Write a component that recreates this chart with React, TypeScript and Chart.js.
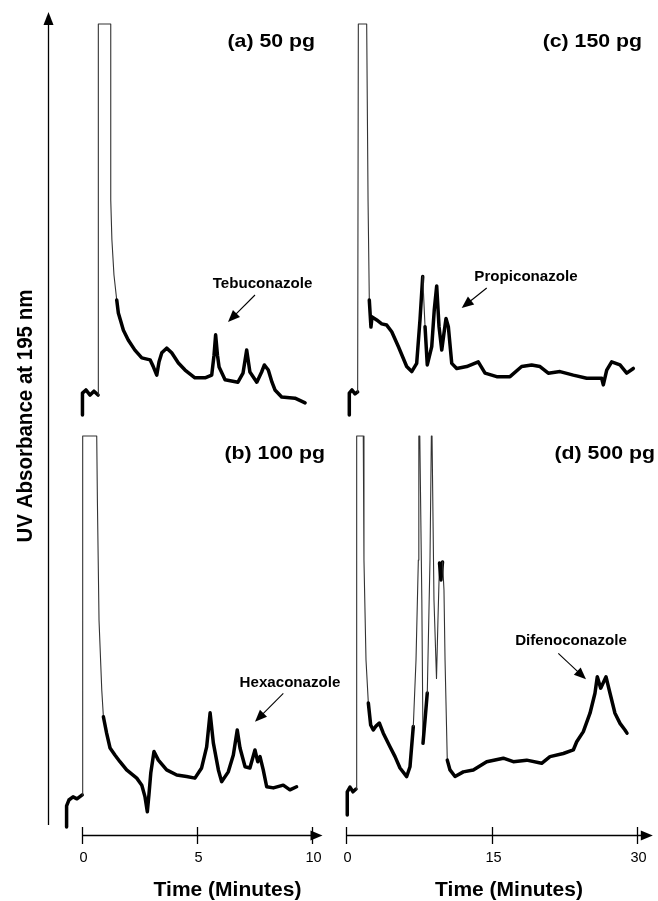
import React, { useEffect, useRef } from "react";
import { Chart, registerables } from "chart.js";

Chart.register(...registerables);

// ---------- DATA (time in minutes, UV absorbance in relative units; 100 = detector clipped) ----------
// (a) 50 pg – Tebuconazole
const timeA = [0.02, 0.02, 0.17, 0.35, 0.52, 0.70, 0.71, 1.25, 1.25, 1.30, 1.39, 1.51, 1.58, 1.67, 1.80, 2.01, 2.30, 2.60, 2.96, 3.09, 3.25, 3.35, 3.47, 3.68, 3.90, 4.19, 4.48, 4.91, 5.35, 5.64, 5.74, 5.81, 5.89, 5.96, 6.22, 6.78, 7.00, 7.16, 7.30, 7.60, 7.81, 7.93, 8.10, 8.26, 8.39, 8.68, 9.26, 9.70];
const absA = [0, 5.6, 6.4, 5.1, 6.1, 5.1, 100, 100, 55.0, 44.8, 35.8, 29.4, 26.1, 24.3, 21.7, 19.2, 16.6, 14.6, 14.1, 12.5, 10.2, 13.6, 15.9, 17.1, 15.9, 13.3, 11.5, 9.5, 9.5, 10.2, 15.3, 20.5, 15.3, 12.3, 9.0, 8.4, 10.7, 16.6, 11.0, 8.4, 11.0, 12.8, 11.5, 8.4, 6.4, 4.6, 4.3, 3.1];

// (b) 100 pg – Hexaconazole
const timeB = [-0.67, -0.67, -0.57, -0.39, -0.22, 0.01, 0.03, 0.64, 0.67, 0.74, 0.86, 0.93, 1.07, 1.22, 1.43, 1.65, 1.94, 2.38, 2.60, 2.74, 2.84, 2.91, 2.99, 3.13, 3.32, 3.68, 4.12, 4.55, 4.91, 5.20, 5.42, 5.57, 5.71, 5.93, 6.07, 6.36, 6.58, 6.75, 6.87, 7.09, 7.30, 7.52, 7.64, 7.74, 7.88, 8.03, 8.32, 8.75, 9.04, 9.33];
const absB = [0, 5.4, 6.9, 7.7, 7.2, 8.2, 100, 100, 83.1, 52.9, 35.0, 28.2, 24.0, 20.2, 18.4, 16.7, 14.6, 12.5, 10.7, 7.7, 3.9, 8.2, 13.8, 19.3, 17.1, 14.6, 13.3, 12.9, 12.5, 15.1, 20.5, 29.2, 21.5, 14.6, 11.6, 14.1, 18.4, 24.8, 20.2, 15.4, 15.1, 19.7, 16.7, 18.0, 14.6, 10.3, 10.0, 10.7, 9.5, 10.3];

// (c) 150 pg – Propiconazole
const timeC = [0.34, 0.34, 0.62, 0.93, 1.20, 1.27, 2.13, 2.27, 2.40, 2.57, 2.68, 3.16, 3.68, 4.19, 4.71, 5.39, 6.25, 6.77, 7.28, 7.62, 7.90, 8.14, 8.37, 8.83, 9.09, 9.34, 9.58, 9.86, 10.09, 10.30, 10.54, 10.89, 11.40, 12.43, 13.62, 14.32, 15.52, 16.89, 18.09, 19.12, 19.98, 20.83, 22.04, 23.41, 24.79, 26.33, 26.50, 26.85, 27.36, 28.22, 28.91, 29.59];
const absC = [0, 5.6, 6.4, 5.4, 5.9, 100, 100, 55.0, 29.4, 22.5, 25.1, 24.3, 23.3, 23.0, 21.3, 17.5, 12.4, 11.1, 13.2, 24.3, 35.4, 22.6, 12.8, 17.5, 26.9, 33.0, 22.6, 16.6, 20.9, 24.7, 22.6, 13.2, 11.9, 12.4, 13.6, 10.7, 9.8, 9.8, 12.4, 12.8, 12.4, 10.7, 11.1, 10.2, 9.4, 9.4, 7.7, 11.5, 13.6, 12.8, 10.7, 11.9];

// (d) 500 pg – Difenoconazole
const timeD = [0.13, 0.13, 0.41, 0.72, 1.03, 1.10, 1.78, 1.85, 2.06, 2.30, 2.54, 2.81, 3.09, 3.43, 3.84, 4.53, 5.05, 5.56, 6.25, 6.59, 6.93, 7.21, 7.45, 7.50, 7.60, 7.81, 7.93, 8.14, 8.37, 8.65, 8.79, 8.86, 9.06, 9.32, 9.47, 9.63, 9.78, 9.94, 10.09, 10.20, 10.43, 10.71, 11.23, 12.08, 13.11, 14.49, 16.20, 17.23, 18.61, 20.15, 21.01, 22.38, 23.41, 23.76, 24.44, 25.13, 25.64, 25.88, 26.23, 26.78, 27.19, 27.70, 28.22, 28.73, 28.94];
const absD = [3.1, 9.0, 10.2, 9.0, 9.7, 100, 100, 68.3, 42.7, 31.7, 26.1, 24.8, 25.8, 26.6, 24.0, 20.5, 18.0, 15.1, 12.9, 15.4, 25.7, 42.7, 68.3, 100, 100, 58.1, 21.4, 27.4, 34.3, 68.3, 100, 100, 58.1, 38.0, 52.9, 67.5, 63.2, 67.8, 60.6, 42.7, 17.1, 14.6, 12.9, 14.1, 14.6, 16.7, 17.6, 16.7, 17.1, 16.3, 18.0, 18.8, 19.7, 21.8, 24.4, 29.1, 34.2, 38.4, 35.5, 38.4, 34.2, 29.1, 26.5, 24.8, 24.0];

const leftTicks = [0, 5, 10];
const rightTicks = [0, 15, 30];
const panelLabels = ["(a) 50 pg", "(b) 100 pg", "(c) 150 pg", "(d) 500 pg"];
const compounds = ["Tebuconazole", "Hexaconazole", "Propiconazole", "Difenoconazole"];
const yTitle = "UV Absorbance at 195 nm";
const xTitle = "Time (Minutes)";
const CLIP = 100;

// ---------- LAYOUT ----------
const W = 658;
const H = 901;
const L_ZERO = 82, L_PPM = 23;      // left time axis: px of t=0, px per minute
const R_ZERO = 346, R_PPM = 9.71;   // right time axis
const TOP_BASE = 415, BOT_BASE = 827, PPU = 3.91; // y px of 0 and px per unit
const FONT = '"Liberation Sans", Arial, Helvetica, sans-serif';
const THICK = 3.5;
const THIN = 1.1;

const series = (t: number[], v: number[]) => t.map((x, i) => ({ x, y: v[i] }));

function txt(ctx: CanvasRenderingContext2D, s: string, x: number, y: number, size: number, bold: boolean, align: CanvasTextAlign, sx = 1) {
  ctx.save();
  ctx.translate(x, y);
  ctx.scale(sx, 1);
  ctx.font = `${bold ? "bold " : ""}${size}px ${FONT}`;
  ctx.textAlign = align;
  ctx.textBaseline = "alphabetic";
  ctx.fillStyle = "#000";
  ctx.fillText(s, 0, 0);
  ctx.restore();
}

function arrowHead(ctx: CanvasRenderingContext2D, x1: number, y1: number, x2: number, y2: number, len: number, half: number) {
  const a = Math.atan2(y2 - y1, x2 - x1);
  ctx.beginPath();
  ctx.moveTo(x2, y2);
  ctx.lineTo(x2 - len * Math.cos(a) + half * Math.sin(a), y2 - len * Math.sin(a) - half * Math.cos(a));
  ctx.lineTo(x2 - len * Math.cos(a) - half * Math.sin(a), y2 - len * Math.sin(a) + half * Math.cos(a));
  ctx.closePath();
  ctx.fill();
}

function arrow(ctx: CanvasRenderingContext2D, x1: number, y1: number, x2: number, y2: number) {
  const a = Math.atan2(y2 - y1, x2 - x1);
  ctx.beginPath();
  ctx.moveTo(x1, y1);
  ctx.lineTo(x2 - 8 * Math.cos(a), y2 - 8 * Math.sin(a));
  ctx.stroke();
  arrowHead(ctx, x1, y1, x2, y2, 12, 5);
}

const decorations = {
  id: "decorations",
  afterDraw(chart: any) {
    const ctx: CanvasRenderingContext2D = chart.ctx;
    ctx.save();
    ctx.strokeStyle = "#000";
    ctx.fillStyle = "#000";
    ctx.lineWidth = 1.3;

    // vertical (absorbance) axis with arrow
    ctx.beginPath();
    ctx.moveTo(48.5, 22);
    ctx.lineTo(48.5, 825);
    ctx.stroke();
    arrowHead(ctx, 48.5, 40, 48.5, 12, 13, 5);

    ctx.save();
    ctx.translate(31.5, 416);
    ctx.rotate(-Math.PI / 2);
    ctx.scale(1, 1.1);
    ctx.font = `bold 20.5px ${FONT}`;
    ctx.textAlign = "center";
    ctx.textBaseline = "alphabetic";
    ctx.fillText(yTitle, 0, 0);
    ctx.restore();

    // time axes
    const drawAxis = (scale: any, ticks: number[], ext: number, titleX: number) => {
      const y = 835.5;
      const x0 = scale.getPixelForValue(ticks[0]);
      const x1 = scale.getPixelForValue(ticks[ticks.length - 1]) + ext;
      ctx.lineWidth = 1.3;
      ctx.beginPath();
      ctx.moveTo(x0, y);
      ctx.lineTo(x1 - 6, y);
      ctx.stroke();
      arrowHead(ctx, x0, y, x1, y, 12, 5);
      ticks.forEach((t) => {
        const px = Math.round(scale.getPixelForValue(t)) + 0.5;
        ctx.beginPath();
        ctx.moveTo(px, 827);
        ctx.lineTo(px, 844);
        ctx.stroke();
        txt(ctx, String(t), px + 1, 862, 14.5, false, "center");
      });
      txt(ctx, xTitle, titleX, 896, 20, true, "center", 1.05);
    };
    drawAxis(chart.scales.xL, leftTicks, 10.5, 227.5);
    drawAxis(chart.scales.xR, rightTicks, 15.5, 509);

    // panel labels
    txt(ctx, panelLabels[0], 315, 47, 19, true, "right", 1.12);
    txt(ctx, panelLabels[1], 325, 459, 19, true, "right", 1.12);
    txt(ctx, panelLabels[2], 642, 47, 19, true, "right", 1.12);
    txt(ctx, panelLabels[3], 655, 459, 19, true, "right", 1.12);

    // compound annotations
    ctx.lineWidth = 1.1;
    txt(ctx, compounds[0], 262.5, 288, 14, true, "center", 1.08);
    arrow(ctx, 255, 295, 228, 322);
    txt(ctx, compounds[1], 290, 686.5, 14, true, "center", 1.08);
    arrow(ctx, 283.3, 693.3, 255, 721.7);
    txt(ctx, compounds[2], 526, 280.5, 14, true, "center", 1.08);
    arrow(ctx, 486.7, 288, 461.7, 308);
    txt(ctx, compounds[3], 571, 645, 14, true, "center", 1.08);
    arrow(ctx, 558.3, 653.3, 586, 679.3);

    ctx.restore();
  },
};

// saturated/steep pen strokes are drawn as thin grey lines, the noisy baseline as a thick black band
const isThin = (c: any) => {
  const d = c.chart.data.datasets[c.datasetIndex].data;
  const v0 = d[c.p0DataIndex].y;
  const v1 = d[c.p1DataIndex].y;
  if (v0 >= CLIP && v1 >= CLIP) return true;
  const dy = Math.abs(c.p1.y - c.p0.y);
  return dy > 45 || (v0 > 28 && v1 > 28 && dy > 20);
};

const trace = (label: string, t: number[], v: number[], xAxisID: string, yAxisID: string) => ({
  label,
  data: series(t, v),
  xAxisID,
  yAxisID,
  borderColor: "#000",
  borderWidth: THICK,
  pointRadius: 0,
  tension: 0,
  fill: false,
  clip: false as any,
  borderJoinStyle: "round" as const,
  borderCapStyle: "round" as const,
  segment: {
    borderWidth: (c: any) => (isThin(c) ? THIN : THICK),
    borderColor: (c: any) => (isThin(c) ? "#333" : "#000"),
  },
});

export default function App() {
  const ref = useRef<HTMLCanvasElement | null>(null);
  useEffect(() => {
    if (!ref.current) return;
    const chart = new Chart(ref.current, {
      type: "line",
      data: {
        datasets: [
          trace(panelLabels[0], timeA, absA, "xL", "yT"),
          trace(panelLabels[1], timeB, absB, "xL", "yB"),
          trace(panelLabels[2], timeC, absC, "xR", "yT"),
          trace(panelLabels[3], timeD, absD, "xR", "yB"),
        ],
      },
      options: {
        responsive: false,
        maintainAspectRatio: false,
        devicePixelRatio: 1,
        animation: false,
        events: [],
        layout: { padding: 0 },
        plugins: { legend: { display: false }, tooltip: { enabled: false }, title: { display: false } },
        scales: {
          xL: { type: "linear", axis: "x", display: false, min: -L_ZERO / L_PPM, max: (W - L_ZERO) / L_PPM },
          xR: { type: "linear", axis: "x", display: false, min: -R_ZERO / R_PPM, max: (W - R_ZERO) / R_PPM },
          yT: { type: "linear", axis: "y", display: false, min: -(H - TOP_BASE) / PPU, max: TOP_BASE / PPU },
          yB: { type: "linear", axis: "y", display: false, min: -(H - BOT_BASE) / PPU, max: BOT_BASE / PPU },
        } as any,
      },
      plugins: [decorations],
    } as any);
    return () => chart.destroy();
  }, []);
  return (
    <div style={{ position: "absolute", left: 0, top: 0, width: W, height: H, background: "#fff" }}>
      <canvas ref={ref} width={W} height={H} style={{ display: "block", width: W, height: H }} />
    </div>
  );
}
